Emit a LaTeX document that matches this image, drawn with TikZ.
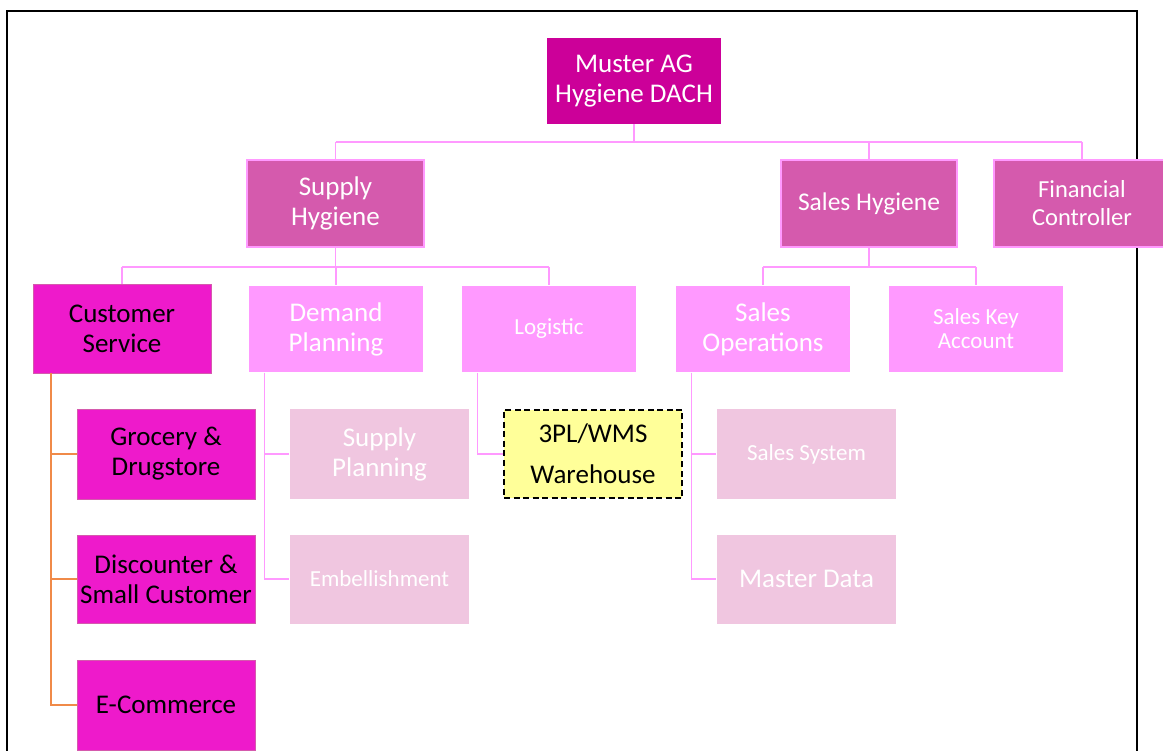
\documentclass[tikz,border=0pt]{standalone}
\usepackage{fontspec}
\setmainfont{Carlito}
\definecolor{topfill}{HTML}{CC0099}
\definecolor{midfill}{HTML}{D55AAD}
\definecolor{lightpink}{HTML}{FF99FF}
\definecolor{csfill}{HTML}{EE1ACB}
\definecolor{paleink}{HTML}{F0C6E0}
\definecolor{yellowfill}{HTML}{FFFF99}
\definecolor{orangeline}{HTML}{F08A48}
\tikzset{
  orgbox/.style={rectangle, inner sep=0pt, align=center, text=white,
    font=\fontsize{27}{30}\selectfont, line width=1.2pt},
  topbox/.style={orgbox, fill=topfill, draw=topfill, minimum width=173pt, minimum height=85pt},
  headbox/.style={orgbox, fill=midfill, draw=lightpink, minimum width=177pt, minimum height=87pt},
  csbox/.style={orgbox, fill=csfill, draw=midfill, line width=0.8pt, text=black},
  unitbox/.style={orgbox, fill=lightpink, minimum width=174pt, minimum height=86pt},
  subbox/.style={orgbox, fill=paleink, minimum width=179pt, minimum height=89pt},
  smalltext/.style={font=\fontsize{23}{24}\selectfont},
  wmsbox/.style={orgbox, fill=yellowfill, draw=black, line width=1.6pt,
    dash pattern=on 6pt off 3.5pt, text=black, minimum width=178pt, minimum height=88pt,
    font=\fontsize{27}{41}\selectfont},
  pinkconn/.style={draw=lightpink, line width=1.8pt},
  orangeconn/.style={draw=orangeline, line width=1.8pt},
  frameline/.style={draw=black, line width=2.4pt}
}
\begin{document}
\begin{tikzpicture}[x=1pt,y=-1pt]
\useasboundingbox (0,0) rectangle (1163,751);
\clip (0,0) rectangle (1163,751);

% outer frame
\draw[frameline] (7,770) -- (7,11) -- (1137,11) -- (1137,770);

% top level
\node[topbox] (top) at (634,81) {Muster AG\\Hygiene DACH};

% second level
\node[headbox] (supply) at (335.5,203.5) {Supply\\Hygiene};
\node[headbox, minimum width=176pt, font=\fontsize{25.5}{30}\selectfont] (sales) at (869,203.5) {Sales Hygiene};
\node[headbox, minimum width=176pt, font=\fontsize{24.5}{28}\selectfont] (fin) at (1082,203.5) {Financial\\Controller};

% third level
\node[csbox, minimum width=178pt, minimum height=89pt] (cs) at (122,328.5) {Customer\\Service};
\node[unitbox] (dem) at (336,329) {Demand\\Planning};
\node[unitbox, smalltext] (log) at (549,329) {Logistic};
\node[unitbox] (sop) at (763,329) {Sales\\Operations};
\node[unitbox, smalltext] (ska) at (976,329) {Sales Key\\Account};

% fourth level
\node[csbox, minimum width=178pt, minimum height=90pt] (groc) at (166,454) {Grocery \&\\Drugstore};
\node[csbox, minimum width=178pt, minimum height=88pt] (disc) at (166,579) {Discounter \&\\Small Customer};
\node[csbox, minimum width=178pt, minimum height=90pt] (ecom) at (166,705) {E-Commerce};
\node[subbox] (splan) at (379.5,454) {Supply\\Planning};
\node[subbox, smalltext] (emb) at (379.5,579) {Embellishment};
\node[wmsbox] (wms) at (593,454) {3PL/WMS\\Warehouse};
\node[subbox, smalltext] (ssys) at (806.5,454) {Sales System};
\node[subbox] (mdata) at (806.5,579) {Master Data};

% connectors from the top
\coordinate (busA) at (0,142);
\draw[pinkconn] (top.south) -- (top.south |- busA);
\draw[pinkconn] (supply.north |- busA) -- (fin.north |- busA);
\draw[pinkconn] (supply.north |- busA) -- (supply.north);
\draw[pinkconn] (sales.north |- busA) -- (sales.north);
\draw[pinkconn] (fin.north |- busA) -- (fin.north);

% connectors below Supply Hygiene
\coordinate (busB) at (0,267);
\draw[pinkconn] (supply.south) -- (supply.south |- busB);
\draw[pinkconn] (cs.north |- busB) -- (log.north |- busB);
\draw[pinkconn] (cs.north |- busB) -- (cs.north);
\draw[pinkconn] (dem.north |- busB) -- (dem.north);
\draw[pinkconn] (log.north |- busB) -- (log.north);

% connectors below Sales Hygiene
\draw[pinkconn] (sales.south) -- (sales.south |- busB);
\draw[pinkconn] (sop.north |- busB) -- (ska.north |- busB);
\draw[pinkconn] (sop.north |- busB) -- (sop.north);
\draw[pinkconn] (ska.north |- busB) -- (ska.north);

% Customer Service branches
\draw[orangeconn] ([xshift=18pt]cs.south west) |- (groc.west);
\draw[orangeconn] ([xshift=18pt]cs.south west) |- (disc.west);
\draw[orangeconn] ([xshift=18pt]cs.south west) |- (ecom.west);

% Demand Planning branches
\draw[pinkconn] ([xshift=16pt]dem.south west) |- (splan.west);
\draw[pinkconn] ([xshift=16pt]dem.south west) |- (emb.west);

% Logistic branch
\draw[pinkconn] ([xshift=16pt]log.south west) |- (wms.west);

% Sales Operations branches
\draw[pinkconn] ([xshift=16pt]sop.south west) |- (ssys.west);
\draw[pinkconn] ([xshift=16pt]sop.south west) |- (mdata.west);
\end{tikzpicture}
\end{document}
